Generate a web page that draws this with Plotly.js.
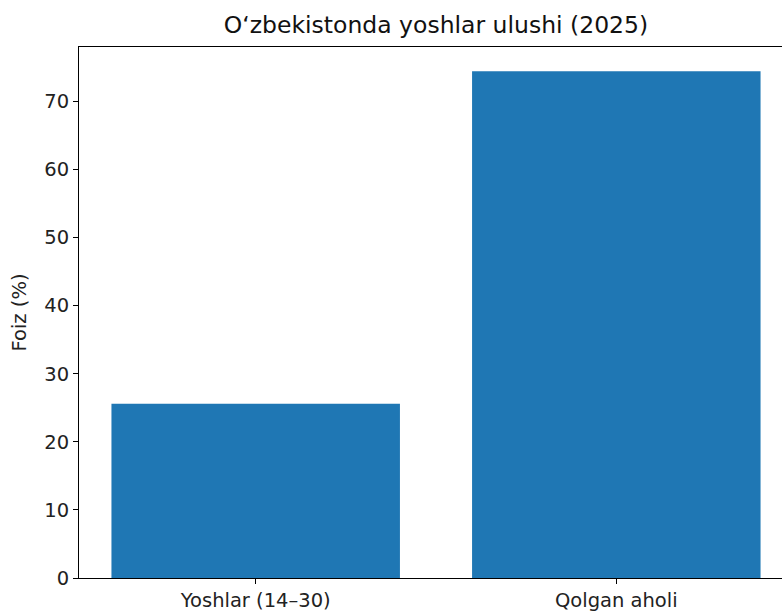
<!DOCTYPE html>
<html>
<head>
<meta charset="utf-8">
<script src="https://cdn.plot.ly/plotly-3.0.1.min.js"></script>
<style>
html, body { margin: 0; padding: 0; overflow: hidden; background: #fff; }
#chart { width: 800px; height: 612px; }
</style>
</head>
<body>
<div id="chart"></div>
<script>
const categories = ["Yoshlar (14–30)", "Qolgan aholi"];
const shares = [25.6, 74.4];
const yTicks = [0, 10, 20, 30, 40, 50, 60, 70];

const font = "DejaVu Sans, sans-serif";

const trace = {
  type: "bar",
  x: [0, 1],
  y: shares,
  width: 0.8,
  marker: { color: "#1f77b4", line: { width: 0 } },
  hoverinfo: "none"
};

const layout = {
  width: 800,
  height: 612,
  margin: { l: 79, r: 7, t: 47, b: 34 },
  paper_bgcolor: "#ffffff",
  plot_bgcolor: "#ffffff",
  showlegend: false,
  font: { family: font, size: 19.5, color: "#222" },
  title: {
    text: "O‘zbekistonda yoshlar ulushi (2025)",
    font: { family: font, size: 23.5, color: "#111" },
    xref: "paper", x: 0.5, xanchor: "center",
    yref: "container", y: 1 - 25 / 612, yanchor: "middle"
  },
  xaxis: {
    range: [-0.49, 1.49],
    tickmode: "array",
    tickvals: [0, 1],
    ticktext: categories,
    ticks: "outside", ticklen: 5, tickwidth: 1, tickcolor: "#000",
    showline: true, linecolor: "#000", linewidth: 1, mirror: true,
    showgrid: false, zeroline: false,
    tickfont: { family: font, size: 19.5, color: "#222" },
    automargin: false
  },
  yaxis: {
    range: [0, 77.97],
    tickmode: "array",
    tickvals: yTicks,
    ticks: "outside", ticklen: 5, tickwidth: 1, tickcolor: "#000",
    showline: true, linecolor: "#000", linewidth: 1, mirror: true,
    showgrid: false, zeroline: false,
    tickfont: { family: font, size: 19.5, color: "#222" },
    title: { text: "Foiz (%)", font: { family: font, size: 19.5, color: "#222" }, standoff: 12 },
    automargin: false
  }
};

Plotly.newPlot("chart", [trace], layout, { displayModeBar: false, staticPlot: true });
</script>
</body>
</html>
